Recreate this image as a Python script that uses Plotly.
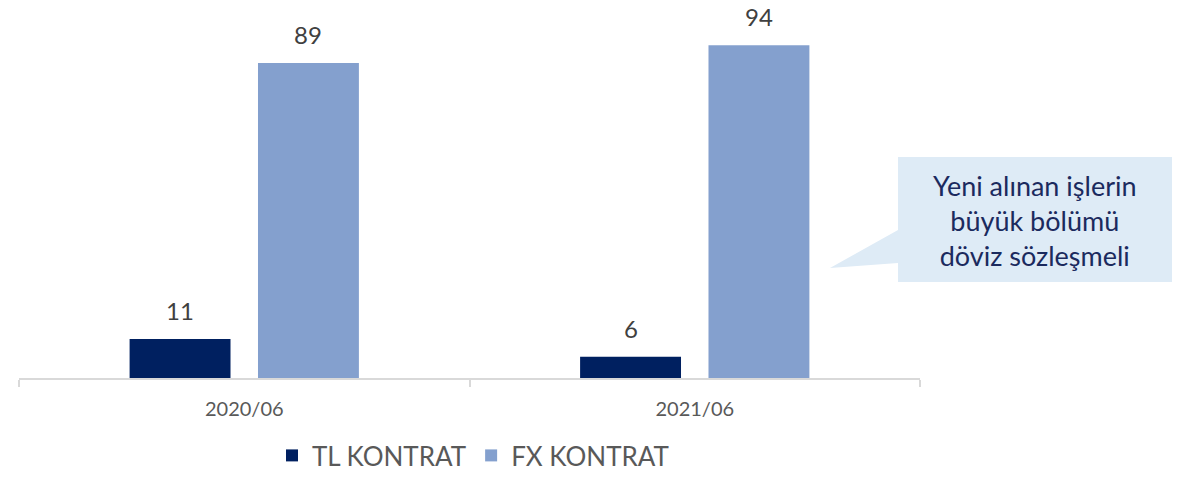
import plotly.graph_objects as go

categories = ["2020/06", "2021/06"]
tl_values = [11, 6]
fx_values = [89, 94]
series_names = ["TL KONTRAT", "FX KONTRAT"]
callout_text = "Yeni alınan işlerin<br>büyük bölümü<br>döviz sözleşmeli"

W, H = 1196, 479
# plot area in page pixels
X0, X1, Y0, Y1 = 19, 920, 24, 378
L, R, T, B = X0, W - X1, Y0, H - Y1


def px(x):
    return (x - X0) / (X1 - X0)


def py(y):
    return (Y1 - y) / (Y1 - Y0)


fig = go.Figure()
fig.add_bar(x=categories, y=tl_values, name=series_names[0], marker_color="#002060",
            marker_line_width=0)
fig.add_bar(x=categories, y=fx_values, name=series_names[1], marker_color="#84A0CE",
            marker_line_width=0)

annotations = []
for trace_vals, xshift in ((tl_values, -64), (fx_values, 64)):
    for c, v in zip(categories, trace_vals):
        annotations.append(dict(x=c, y=v, xref="x", yref="y", text=str(v), showarrow=False,
                                yanchor="bottom", yshift=12, xshift=xshift,
                                font=dict(size=24, color="#404040", family="Lato")))

# callout bubble
path = (f"M {px(898)} {py(157)} L {px(1172)} {py(157)} L {px(1172)} {py(282)} "
        f"L {px(898)} {py(282)} L {px(898)} {py(263)} L {px(830)} {py(268)} "
        f"L {px(898)} {py(230)} Z")
fig.add_shape(type="path", path=path, xref="paper", yref="paper",
              fillcolor="#DEEBF6", line=dict(width=0), layer="above")
annotations.append(dict(x=px(1035), y=py(220), xref="paper", yref="paper",
                        text=callout_text, showarrow=False, align="center",
                        xanchor="center", yanchor="middle",
                        font=dict(size=27, color="#1B2A5E", family="Lato")))

fig.update_layout(
    width=W, height=H,
    margin=dict(l=L, r=R, t=T, b=B, pad=0),
    plot_bgcolor="white", paper_bgcolor="white",
    barmode="group", bargap=0.43, bargroupgap=0.214,
    font=dict(family="Lato", color="#595959"),
    showlegend=True,
    legend=dict(orientation="h", x=px(473), xanchor="center",
                yref="container", y=0, yanchor="bottom",
                font=dict(size=26, color="#595959"), itemwidth=30, tracegroupgap=0),
    annotations=annotations,
    xaxis=dict(showline=True, linecolor="#D9D9D9", linewidth=1.5, ticks="outside",
               tickson="boundaries", ticklen=7, tickcolor="#D9D9D9", tickwidth=1.5,
               showgrid=False, tickfont=dict(size=20, color="#595959"),
               ticklabelstandoff=12),
    yaxis=dict(range=[0, 100], visible=False, showgrid=False),
)

fig.write_html("out.html", config={"displayModeBar": False},
               post_script="document.body.style.margin='0';")
